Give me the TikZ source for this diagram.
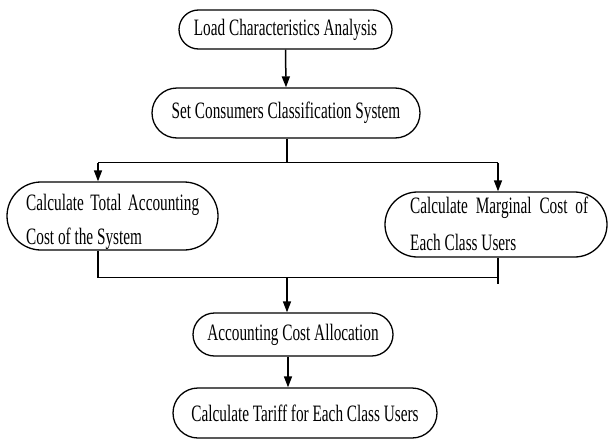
\documentclass[tikz,border=0pt]{standalone}
\usepackage{fontspec}
\setmainfont{Liberation Serif}[FakeStretch=0.65]
\usetikzlibrary{shapes.misc,arrows.meta}
\tikzset{
  box/.style={draw, line width=1.3pt, rounded rectangle, inner sep=0pt, font=\fontsize{23.5}{28}\selectfont},
  txt/.style={inner sep=0pt, font=\fontsize{23.5}{28}\selectfont},
  conn/.style={line width=1.5pt},
  arr/.style={conn, -{Triangle[length=11pt,width=8pt]}}
}
\begin{document}
\begin{tikzpicture}[x=1pt,y=-1pt]
\useasboundingbox (0,0) rectangle (609,439);
\node[box, minimum width=213pt, minimum height=39pt] (n1) at (285.5,29.5) {Load Characteristics Analysis};
\node[box, minimum width=268pt, minimum height=50pt] (n2) at (286,113) {Set Consumers Classification System};
\node[box, minimum width=211pt, minimum height=68pt] (n3) at (112.5,216) {};
\node[txt, anchor=base west] (t3a) at (26,210) {\makebox[173pt][s]{Calculate Total Accounting}};
\node[txt, anchor=base west] (t3b) at (26,244) {Cost of the System};
\node[box, minimum width=222pt, minimum height=65pt] (n4) at (496,224.5) {};
\node[txt, anchor=base west] (t4a) at (410,213) {\makebox[178pt][s]{Calculate Marginal Cost of}};
\node[txt, anchor=base west] (t4b) at (410,250) {Each Class Users};
\node[box, minimum width=200pt, minimum height=43pt] (n5) at (293,334.5) {Accounting Cost Allocation};
\node[box, minimum width=264pt, minimum height=50pt] (n6) at (305,413) {Calculate Tariff for Each Class Users};
\coordinate (s1) at (287,162.5);
\coordinate (l1) at (98,162.5);
\coordinate (r1) at (498,162.5);
\coordinate (l2) at (98,277.5);
\coordinate (r2) at (498,277.5);
\coordinate (m2) at (287,277.5);
\draw[arr] (n1.south) -- (n2.north);
\draw[conn] (n2.south -| s1) -- (s1);
\draw[conn] (l1) -- (r1);
\draw[arr] (l1) -- (l1 |- n3.north);
\draw[arr] (r1) -- (r1 |- n4.north);
\draw[conn] (l1 |- n3.south) -- (l2) -- (r2);
\draw[conn] (r1 |- n4.south) -- ([yshift=-6pt]r2);
\draw[arr] (m2) -- (m2 |- n5.north);
\draw[arr] (n5.south -| 288,0) -- (n6.north -| 288,0);
\end{tikzpicture}
\end{document}
